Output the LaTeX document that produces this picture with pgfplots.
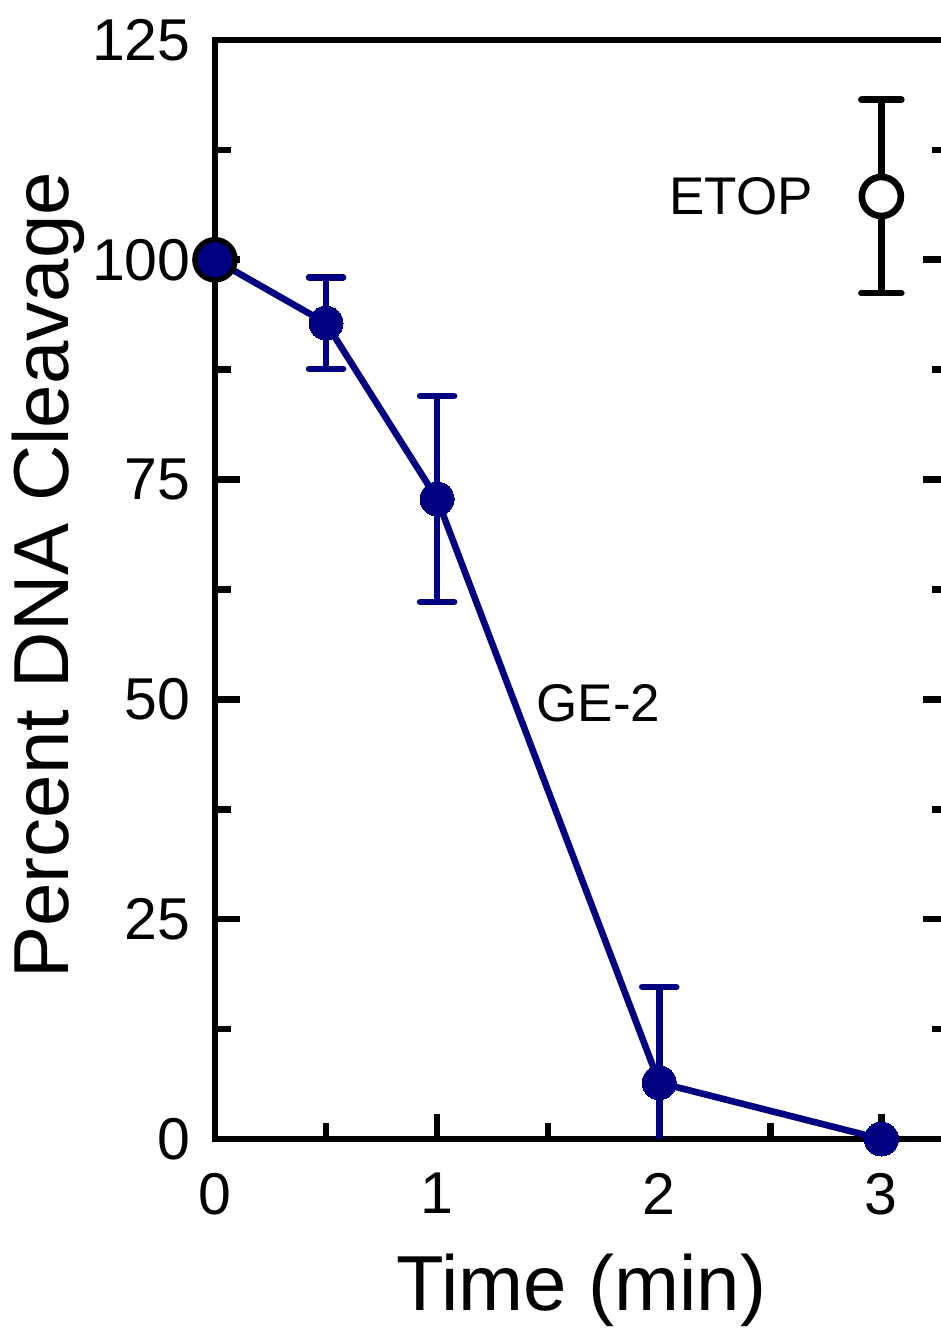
\documentclass[border=0pt]{standalone}
\usepackage{pgfplots}
\pgfplotsset{compat=1.18}
\usepackage{fontspec}
\setmainfont{Liberation Sans}
\definecolor{ge}{RGB}{0,0,128}

\begin{document}
\begin{tikzpicture}
\begin{axis}[
    at={(0pt,0pt)}, anchor=south west,
    scale only axis,
    width=366.5pt, height=549.5pt,
    xmin=0, xmax=3.3, ymin=0, ymax=125,
    xtick={0,1,2,3}, minor xtick={0.5,1.5,2.5},
    ytick={0,25,50,75,100,125}, minor ytick={12.5,37.5,62.5,87.5,112.5},
    xtick pos=bottom, ytick pos=both,
    tick align=inside,
    major tick length=12.5pt, minor tick length=8pt,
    every tick/.style={black, line width=3.3pt},
    axis line style={line width=3.3pt},
    /pgf/number format/assume math mode=true,
    tick label style={font=\fontsize{29.5}{34}\selectfont},
    yticklabel style={anchor=east, inner sep=0pt, xshift=-12pt},
    xticklabel style={anchor=north, inner sep=0pt, yshift=-17pt},
    label style={font=\fontsize{39}{46}\selectfont, inner sep=0pt},
    xlabel={Time (min)},
    ylabel={Percent DNA Cleavage},
    xlabel style={at={(axis description cs:0.5,-0.104)}, anchor=north},
    ylabel style={at={(axis description cs:-0.277,0.513)}, anchor=north},
]
% ETOP control at t=0 (hidden under GE-2)
\addplot[only marks, mark=*, mark size=9.75pt,
    mark options={line width=3.3pt, fill=white, draw=black}]
    coordinates {(0,100)};
% ETOP
\addplot[only marks, mark=*, mark size=9.75pt,
    mark options={line width=3.3pt, fill=white, draw=black},
    error bars/.cd, y dir=both, y explicit,
    error bar style={line width=3.3pt, black},
    error mark options={rotate=90, black, line width=3.3pt, line cap=round, mark size=10pt}]
    coordinates {(3,107.2) +- (0,11)};
% GE-2 error bars
\addplot[draw=none, mark=none,
    error bars/.cd, y dir=both, y explicit,
    error bar style={line width=3.3pt, ge},
    error mark options={rotate=90, ge, line width=3.3pt, line cap=round, mark size=8.5pt}]
    coordinates {(0.5,92.8) +- (0,5.2) (1,72.8) +- (0,11.7) (2,6.4) +- (0,10.9)};
% GE-2
\addplot[ge, line width=3.3pt, mark=*, mark size=8.5pt,
    mark options={fill=ge, draw=ge, line width=0pt}]
    coordinates {(0,100) (0.5,92.8) (1,72.8) (2,6.4) (3,0)};
\node[anchor=east, inner sep=0pt, font=\fontsize{26.5}{32}\selectfont]
    at (axis cs:3,107.2) [xshift=-34pt] {ETOP};
\node[anchor=west, inner sep=0pt, font=\fontsize{26.5}{32}\selectfont]
    at (axis cs:1.446,49.6) {GE-2};
\end{axis}
\pgfresetboundingbox
\useasboundingbox (-107.5pt,-96.5pt) rectangle (363pt,569.5pt);
\end{tikzpicture}
\end{document}
